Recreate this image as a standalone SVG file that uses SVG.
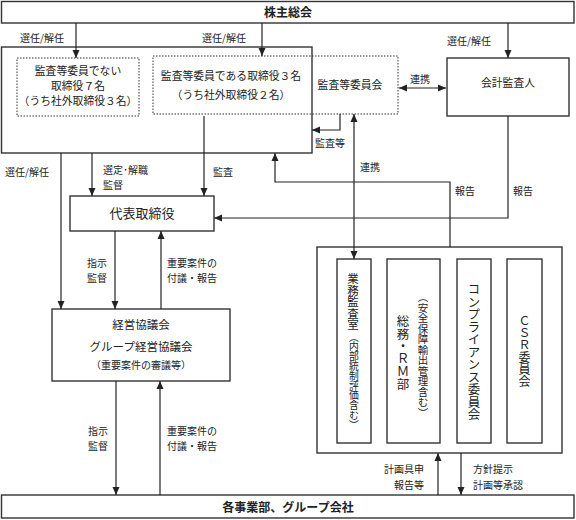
<svg xmlns="http://www.w3.org/2000/svg" width="576" height="520" viewBox="0 0 576 520">
<style>
text{font-family:"Noto Sans CJK JP","Noto Sans CJK SC",sans-serif;fill:#222;}
.box{fill:#fff;stroke:#333;stroke-width:1.4;}
.dot{fill:none;stroke:#333;stroke-width:1;stroke-dasharray:1.5 1.5;}
.t{font-size:10.8px;text-anchor:middle;}
.b{font-size:12px;font-weight:bold;text-anchor:middle;}
.l{font-size:10px;}
.ln{fill:none;stroke:#222;stroke-width:1.2;}
.v{writing-mode:vertical-rl;}
</style>
<defs>
<marker id="ah" markerUnits="userSpaceOnUse" markerWidth="8" markerHeight="8" refX="8" refY="4" orient="auto-start-reverse">
<path d="M0,0.5 L8,4 L0,7.5 z" fill="#222"/>
</marker>
</defs>
<rect width="576" height="520" fill="#fff"/>

<g id="shareholders">
<rect class="box" x="1.5" y="1.5" width="572.5" height="21.5"/>
<text class="b" x="288" y="16.5">株主総会</text>
</g>

<g id="board">
<rect class="box" x="1.5" y="47" width="310.5" height="106"/>
</g>

<g id="directors7">
<rect class="dot" x="17" y="58" width="122" height="58"/>
<text class="t" x="78" y="74.5">監査等委員でない</text>
<text class="t" x="78" y="90">取締役７名</text>
<text class="t" x="78" y="105">（うち社外取締役３名）</text>
</g>

<g id="directors3">
<rect class="dot" x="153" y="56" width="245" height="58"/>
<text class="t" x="231" y="80">監査等委員である取締役３名</text>
<text class="t" x="231" y="99">（うち社外取締役２名）</text>
<text class="t" x="350" y="89">監査等委員会</text>
</g>

<g id="auditor">
<rect class="box" x="447" y="58" width="122" height="58"/>
<text class="t" x="508" y="87">会計監査人</text>
</g>

<g id="representative">
<rect class="box" x="70" y="196" width="144" height="35"/>
<text class="t" x="142" y="218" style="font-size:13px">代表取締役</text>
</g>

<g id="management">
<rect class="box" x="52" y="309" width="178" height="72"/>
<text class="t" x="141" y="329" style="font-size:11.5px">経営協議会</text>
<text class="t" x="141" y="351" style="font-size:11.5px">グループ経営協議会</text>
<text class="t" x="141" y="369" style="font-size:10px">（重要案件の審議等）</text>
</g>

<g id="committees">
<rect class="box" x="317" y="247" width="245" height="206"/>
</g>

<g id="internal-audit">
<rect class="box" x="337" y="259" width="34" height="184"/>
<text class="v" x="353" y="273" style="font-size:11.5px">業務監査室</text>
<text class="v" x="354" y="332" style="font-size:9.8px">（内部統制評価含む）</text>
</g>

<g id="general-affairs">
<rect class="box" x="387" y="259" width="53" height="184"/>
<text class="v" x="403" y="315" style="font-size:12.5px">総務・ＲＭ部</text>
<text class="v" x="423" y="292" style="font-size:10.5px">（安全保障輸出管理含む）</text>
</g>

<g id="compliance">
<rect class="box" x="457" y="259" width="34" height="184"/>
<text class="v" x="474" y="283" style="font-size:12.5px">コンプライアンス委員会</text>
</g>

<g id="csr">
<rect class="box" x="507" y="259" width="35" height="184"/>
<text class="v" x="524.5" y="315" style="font-size:12px">ＣＳＲ委員会</text>
</g>

<g id="business">
<rect class="box" x="1.5" y="495" width="572.5" height="23"/>
<text class="b" x="288" y="511.5">各事業部、グループ会社</text>
</g>

<g id="connectors">
<path class="ln" d="M76,23 V58" marker-end="url(#ah)"/>
<path class="ln" d="M262,23 V56" marker-end="url(#ah)"/>
<path class="ln" d="M508,23 V58" marker-end="url(#ah)"/>
<path class="ln" d="M399,88 H446" marker-start="url(#ah)" marker-end="url(#ah)"/>
<path class="ln" d="M340,114 V130 H312" marker-end="url(#ah)"/>
<path class="ln" d="M354,114 V259" marker-start="url(#ah)" marker-end="url(#ah)"/>
<path class="ln" d="M204,116 V196" marker-end="url(#ah)"/>
<path class="ln" d="M61,153 V309" marker-end="url(#ah)"/>
<path class="ln" d="M92,153 V196" marker-end="url(#ah)"/>
<path class="ln" d="M450,247 V182 H275 V153" marker-end="url(#ah)"/>
<path class="ln" d="M508,116 V218 H214" marker-end="url(#ah)"/>
<path class="ln" d="M115,231 V309" marker-end="url(#ah)"/>
<path class="ln" d="M161,309 V231" marker-end="url(#ah)"/>
<path class="ln" d="M116,381 V495" marker-end="url(#ah)"/>
<path class="ln" d="M160,495 V381" marker-end="url(#ah)"/>
<path class="ln" d="M438,495 V453" marker-end="url(#ah)"/>
<path class="ln" d="M461,453 V495" marker-end="url(#ah)"/>

<text class="l" x="20" y="42">選任/解任</text>
<text class="l" x="202" y="42">選任/解任</text>
<text class="l" x="447" y="45">選任/解任</text>
<text class="l" x="410" y="83">連携</text>
<text class="l" x="315" y="147">監査等</text>
<text class="l" x="360" y="171">連携</text>
<text class="l" x="213" y="176">監査</text>
<text class="l" x="5" y="176">選任/解任</text>
<text class="l" x="103" y="174">選定･解職</text>
<text class="l" x="103" y="189">監督</text>
<text class="l" x="455" y="195">報告</text>
<text class="l" x="513" y="195">報告</text>
<text class="l" x="87" y="267">指示</text>
<text class="l" x="87" y="282">監督</text>
<text class="l" x="167" y="267">重要案件の</text>
<text class="l" x="167" y="282">付議・報告</text>
<text class="l" x="88" y="435">指示</text>
<text class="l" x="88" y="450">監督</text>
<text class="l" x="167" y="435">重要案件の</text>
<text class="l" x="167" y="450">付議・報告</text>
<text class="l" x="424" y="473" text-anchor="end">計画具申</text>
<text class="l" x="424" y="489" text-anchor="end">報告等</text>
<text class="l" x="473" y="473">方針提示</text>
<text class="l" x="473" y="489">計画等承認</text>
</g>
</svg>
